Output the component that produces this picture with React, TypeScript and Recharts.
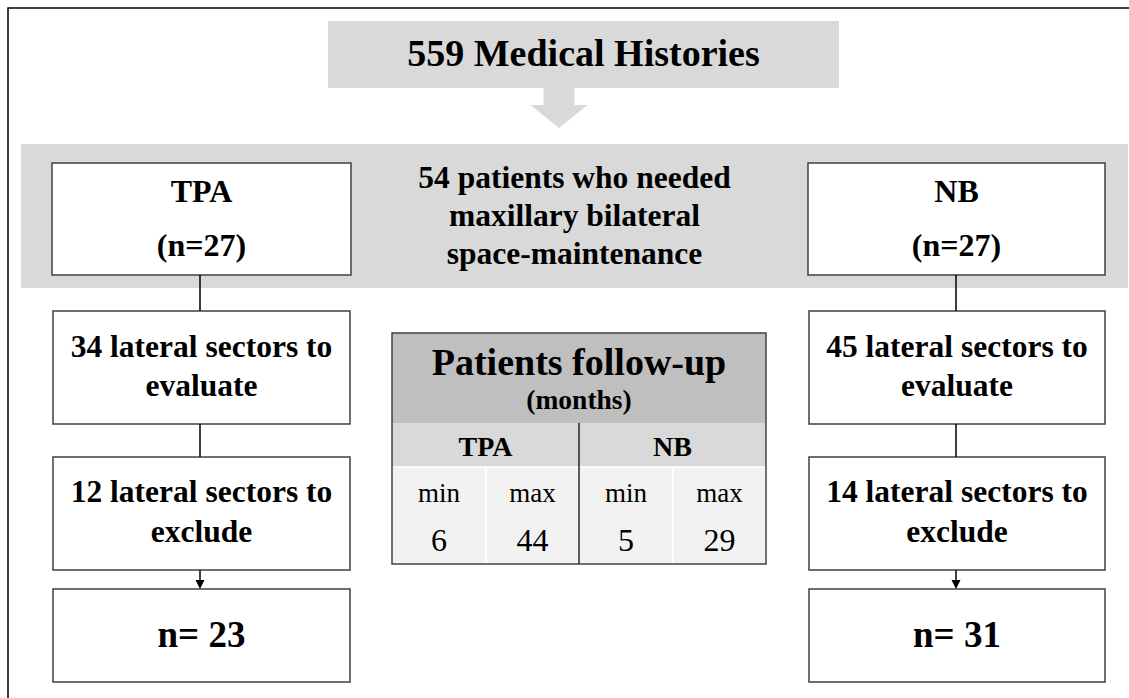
import { ComposedChart, XAxis, YAxis, ReferenceArea, ReferenceLine, Scatter } from "recharts";

// flow values
const totalHistories = 559;
const includedPatients = 54;
const groups = ["TPA", "NB"];
const groupPatients = [27, 27];
const sectorsEvaluated = [34, 45];
const sectorsExcluded = [12, 14];
const finalSectors = [23, 31];

// follow-up table (months)
const followUpStats = ["min", "max"];
const followUpMin = [6, 5];
const followUpMax = [44, 29];

// canvas is mapped 1:1 by the hidden axes
const W = 1129;
const H = 698;
const FONT = "'Liberation Serif', 'Times New Roman', serif";
const BORDER = "#404040";
const GRAY = "#d9d9d9";

const colX: [number, number][] = [
  [53, 350],
  [809, 1105],
];
const colMid = [200, 956];
const groupBoxX: [number, number][] = [
  [52, 351],
  [808, 1105],
];
const tableX = [392, 486, 579, 673, 766];

const bigArrowTip = [{ x: 559, y: 128 }];
const smallArrowTips = colMid.map((x) => ({ x, y: 589 }));

function textLines(
  texts: string[],
  baselines: number[],
  size: number | number[],
  weight: string | number = "bold"
) {
  return (props: any) => {
    const vb = props.viewBox ?? {};
    const cx = vb.x + vb.width / 2;
    return (
      <text fontFamily={FONT} fontWeight={weight} fill="#000" textAnchor="middle">
        {texts.map((t, i) => (
          <tspan key={i} x={cx} y={vb.y + baselines[i]} fontSize={Array.isArray(size) ? size[i] : size}>
            {t}
          </tspan>
        ))}
      </text>
    );
  };
}

function BigArrow(props: any) {
  const { cx, cy } = props;
  const pts = [
    [cx - 15.5, cy - 40],
    [cx + 15.5, cy - 40],
    [cx + 15.5, cy - 23],
    [cx + 28.5, cy - 23],
    [cx, cy],
    [cx - 28.5, cy - 23],
    [cx - 15.5, cy - 23],
  ]
    .map((p) => p.join(","))
    .join(" ");
  return <polygon points={pts} fill={GRAY} />;
}

function SmallArrow(props: any) {
  const { cx, cy } = props;
  return <polygon points={`${cx - 4.5},${cy - 9} ${cx + 4.5},${cy - 9} ${cx},${cy}`} fill="#000" />;
}

export default function App() {
  return (
    <div style={{ position: "absolute", left: 0, top: 0, width: W, height: H, background: "#fff", overflow: "hidden" }}>
      <ComposedChart width={W} height={H} margin={{ top: 0, right: 0, bottom: 0, left: 0 }}>
        <XAxis type="number" dataKey="x" domain={[0, W]} allowDataOverflow hide />
        <YAxis type="number" dataKey="y" domain={[0, H]} allowDataOverflow reversed hide />

        {/* outer frame, runs past the right and bottom edges */}
        <ReferenceArea
          x1={8}
          x2={W + 30}
          y1={8}
          y2={H + 30}
          ifOverflow="visible"
          fill="none"
          stroke="#000"
          strokeWidth={1.5}
        />

        {/* top box */}
        <ReferenceArea
          x1={328}
          x2={839}
          y1={21}
          y2={88}
          fill={GRAY}
          fillOpacity={1}
          stroke="none"
          label={{ content: textLines([`${totalHistories} Medical Histories`], [45], 38) }}
        />

        {/* gray band */}
        <ReferenceArea
          x1={21}
          x2={1128}
          y1={144}
          y2={288}
          fill={GRAY}
          fillOpacity={1}
          stroke="none"
          label={{
            content: textLines(
              [`${includedPatients} patients who needed`, "maxillary bilateral", "space-maintenance"],
              [44, 82, 120],
              31.5
            ),
          }}
        />

        {/* group boxes */}
        {groups.map((g, i) => (
          <ReferenceArea
            key={`g-${g}`}
            x1={groupBoxX[i][0]}
            x2={groupBoxX[i][1]}
            y1={163}
            y2={275}
            fill="#fff"
            fillOpacity={1}
            stroke={BORDER}
            strokeWidth={1.5}
            label={{ content: textLines([g, `(n=${groupPatients[i]})`], [39, 93], 32) }}
          />
        ))}

        {/* connectors */}
        {colMid.map((x) => (
          <ReferenceLine key={`c1-${x}`} segment={[{ x, y: 275 }, { x, y: 311 }]} stroke="#000" strokeWidth={1.5} />
        ))}
        {colMid.map((x) => (
          <ReferenceLine key={`c2-${x}`} segment={[{ x, y: 424 }, { x, y: 457 }]} stroke="#000" strokeWidth={1.5} />
        ))}
        {colMid.map((x) => (
          <ReferenceLine key={`c3-${x}`} segment={[{ x, y: 570 }, { x, y: 582 }]} stroke="#000" strokeWidth={1.5} />
        ))}

        {/* column boxes */}
        {groups.map((g, i) => (
          <ReferenceArea
            key={`e-${g}`}
            x1={colX[i][0]}
            x2={colX[i][1]}
            y1={311}
            y2={424}
            fill="#fff"
            fillOpacity={1}
            stroke={BORDER}
            strokeWidth={1.5}
            label={{ content: textLines([`${sectorsEvaluated[i]} lateral sectors to`, "evaluate"], [46, 85], 31.5) }}
          />
        ))}
        {groups.map((g, i) => (
          <ReferenceArea
            key={`x-${g}`}
            x1={colX[i][0]}
            x2={colX[i][1]}
            y1={457}
            y2={570}
            fill="#fff"
            fillOpacity={1}
            stroke={BORDER}
            strokeWidth={1.5}
            label={{ content: textLines([`${sectorsExcluded[i]} lateral sectors to`, "exclude"], [45, 85], 31.5) }}
          />
        ))}
        {groups.map((g, i) => (
          <ReferenceArea
            key={`n-${g}`}
            x1={colX[i][0]}
            x2={colX[i][1]}
            y1={589}
            y2={682}
            fill="#fff"
            fillOpacity={1}
            stroke={BORDER}
            strokeWidth={1.5}
            label={{ content: textLines([`n= ${finalSectors[i]}`], [58], 37) }}
          />
        ))}

        {/* follow-up table */}
        <ReferenceArea
          x1={tableX[0]}
          x2={tableX[4]}
          y1={333}
          y2={423}
          fill="#bfbfbf"
          fillOpacity={1}
          stroke="none"
          label={{ content: textLines(["Patients follow-up", "(months)"], [42, 76], [38, 27.5]) }}
        />
        {groups.map((g, i) => (
          <ReferenceArea
            key={`tg-${g}`}
            x1={tableX[i * 2]}
            x2={tableX[i * 2 + 2]}
            y1={423}
            y2={467}
            fill={GRAY}
            fillOpacity={1}
            stroke="none"
            label={{ content: textLines([g], [33], 28) }}
          />
        ))}
        {groups.map((g, i) =>
          followUpStats.map((s, j) => (
            <ReferenceArea
              key={`tc-${g}-${s}`}
              x1={tableX[i * 2 + j]}
              x2={tableX[i * 2 + j + 1]}
              y1={467}
              y2={564}
              fill="#f2f2f2"
              fillOpacity={1}
              stroke="#fff"
              strokeWidth={1.5}
              label={{
                content: textLines(
                  [s, String(j === 0 ? followUpMin[i] : followUpMax[i])],
                  [35, 84],
                  [27, 32],
                  "normal"
                ),
              }}
            />
          ))
        )}
        <ReferenceArea
          x1={tableX[0]}
          x2={tableX[4]}
          y1={333}
          y2={564}
          fill="none"
          stroke={BORDER}
          strokeWidth={1.5}
        />
        <ReferenceLine
          segment={[{ x: tableX[2], y: 423 }, { x: tableX[2], y: 564 }]}
          stroke="#262626"
          strokeWidth={1.5}
        />

        <Scatter data={bigArrowTip} shape={<BigArrow />} isAnimationActive={false} />
        <Scatter data={smallArrowTips} shape={<SmallArrow />} isAnimationActive={false} />
      </ComposedChart>
    </div>
  );
}
